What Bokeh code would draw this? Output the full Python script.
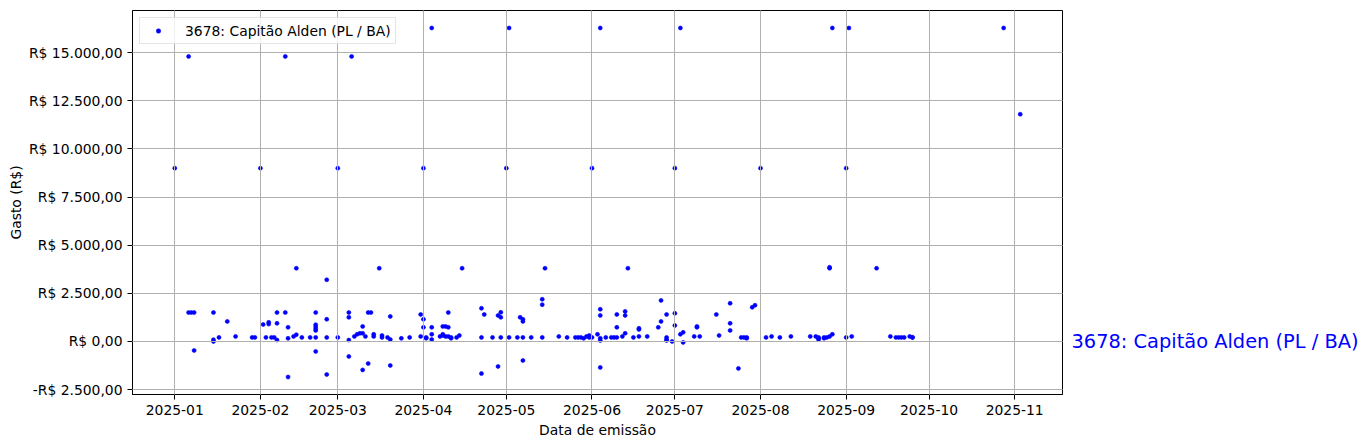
import pandas as pd
from bokeh.plotting import figure
from bokeh.layouts import row
from bokeh.models import Range1d, FixedTicker, DatetimeTickFormatter, ColumnDataSource
from bokeh.core.properties import value
from bokeh.embed import file_html
from bokeh.resources import INLINE

series_name = "3678: Capitão Alden (PL / BA)"

dates = [
    "2025-01-01", "2025-01-06", "2025-01-06", "2025-01-07", "2025-01-08", "2025-01-08",
    "2025-01-15", "2025-01-15", "2025-01-15", "2025-01-17", "2025-01-20", "2025-01-23",
    "2025-01-29", "2025-01-30",
    "2025-02-01", "2025-02-02", "2025-02-03", "2025-02-04", "2025-02-04", "2025-02-05",
    "2025-02-06", "2025-02-07", "2025-02-07", "2025-02-07", "2025-02-10", "2025-02-10",
    "2025-02-11", "2025-02-11", "2025-02-11", "2025-02-14", "2025-02-13", "2025-02-14",
    "2025-02-16", "2025-02-19", "2025-02-21", "2025-02-21", "2025-02-21", "2025-02-21",
    "2025-02-21", "2025-02-21", "2025-02-21", "2025-02-25", "2025-02-25", "2025-02-25",
    "2025-02-25",
    "2025-03-01", "2025-03-01", "2025-03-06", "2025-03-05", "2025-03-05", "2025-03-05",
    "2025-03-05", "2025-03-07", "2025-03-08", "2025-03-09", "2025-03-10", "2025-03-10",
    "2025-03-10", "2025-03-11", "2025-03-12", "2025-03-12", "2025-03-13", "2025-03-14",
    "2025-03-14", "2025-03-16", "2025-03-17", "2025-03-17", "2025-03-19", "2025-03-20",
    "2025-03-20", "2025-03-20", "2025-03-24", "2025-03-27", "2025-03-31", "2025-03-31",
    "2025-04-01", "2025-04-01", "2025-04-01", "2025-04-02", "2025-04-02", "2025-04-04",
    "2025-04-04", "2025-04-04", "2025-04-04", "2025-04-07", "2025-04-08", "2025-04-08",
    "2025-04-08", "2025-04-09", "2025-04-09", "2025-04-10", "2025-04-10", "2025-04-10",
    "2025-04-11", "2025-04-11", "2025-04-13", "2025-04-14", "2025-04-15", "2025-04-22",
    "2025-04-22", "2025-04-22", "2025-04-23", "2025-04-26", "2025-04-28", "2025-04-28",
    "2025-04-29", "2025-04-29", "2025-04-29",
    "2025-05-01", "2025-05-02", "2025-05-02", "2025-05-05", "2025-05-06", "2025-05-07",
    "2025-05-07", "2025-05-07", "2025-05-07", "2025-05-10", "2025-05-14", "2025-05-14",
    "2025-05-14", "2025-05-15", "2025-05-20", "2025-05-23", "2025-05-26", "2025-05-27",
    "2025-05-28", "2025-05-29", "2025-05-30", "2025-05-31", "2025-05-31",
    "2025-06-01", "2025-06-01", "2025-06-03", "2025-06-04", "2025-06-04", "2025-06-04",
    "2025-06-04", "2025-06-04", "2025-06-04", "2025-06-06", "2025-06-08", "2025-06-09",
    "2025-06-10", "2025-06-10", "2025-06-10", "2025-06-12", "2025-06-13", "2025-06-13",
    "2025-06-13", "2025-06-14", "2025-06-16", "2025-06-18", "2025-06-18", "2025-06-18",
    "2025-06-21", "2025-06-25", "2025-06-26", "2025-06-26", "2025-06-28", "2025-06-28",
    "2025-06-28", "2025-06-28", "2025-06-30",
    "2025-07-01", "2025-07-01", "2025-07-01", "2025-07-03", "2025-07-03", "2025-07-04",
    "2025-07-04", "2025-07-08", "2025-07-09", "2025-07-09", "2025-07-10", "2025-07-16",
    "2025-07-17", "2025-07-21", "2025-07-21", "2025-07-21", "2025-07-24", "2025-07-25",
    "2025-07-26", "2025-07-27", "2025-07-27", "2025-07-29", "2025-07-30",
    "2025-08-01", "2025-08-03", "2025-08-05", "2025-08-08", "2025-08-12", "2025-08-19",
    "2025-08-21", "2025-08-22", "2025-08-22", "2025-08-22", "2025-08-24", "2025-08-24",
    "2025-08-25", "2025-08-26", "2025-08-26", "2025-08-26", "2025-08-27", "2025-08-27",
    "2025-09-01", "2025-09-02", "2025-09-01", "2025-09-03", "2025-09-12", "2025-09-17",
    "2025-09-19", "2025-09-20", "2025-09-21", "2025-09-22", "2025-09-24", "2025-09-25",
    "2025-09-25",
    "2025-10-28", "2025-11-03",
]

values = [
    9000, 14800, 1500, 1500, 1500, -470,
    1500, 90, 0, 210, 1040, 260,
    210, 210,
    9000, 880, 210, 990, 900, 210,
    210, 1500, 940, 70, 14800, 1500,
    160, 730, -1850, 3800, 260, 350,
    210, 210, 210, 1500, 870, 760,
    660, 570, -520, 3200, 1150, 210,
    -1720,
    9000, 210, 14800, 1500, 1250, 70,
    -780, 260, 370, 420, 420, 780,
    -1480, 260, 1500, -1150, 1500, 370,
    260, 3800, 310, 210, 210, 100,
    1300, -1250, 160, 210, 260, 1400,
    9000, 1150, 730, 210, 160, 16280,
    730, 370, 100, 260, 310, 370,
    780, 780, 260, 730, 1500, 260,
    210, 160, 210, 310, 3800, 1720,
    210, -1670, 1400, 210, 1350, -1300,
    1510, 1250, 210,
    9000, 16280, 210, 210, 1250, 1150,
    1040, 210, -990, 210, 2190, 1910,
    210, 3800, 260, 210, 210, 210,
    210, 160, 260, 310, 210,
    9000, 210, 370, 16280, 1670, 1350,
    160, 50, -1350, 210, 210, 210,
    210, 1400, 730, 260, 1560, 1350,
    420, 3800, 210, 260, 680, 620,
    260, 730, 2130, 1040, 1400, 210,
    100, 50, 0,
    9000, 1460, 830, 16280, 370, -50,
    470, 260, 780, 730, 260, 1400,
    310, 1980, 940, 570, -1400, 210,
    210, 210, 160, 1770, 1880,
    9000, 210, 260, 210, 260, 260,
    260, 210, 160, 100, 210, 160,
    210, 3800, 3850, 260, 16280, 370,
    9000, 16280, 210, 260, 3800, 260,
    210, 210, 210, 210, 260, 210,
    210,
    16280, 11800,
]

y_ticks = [-2500, 0, 2500, 5000, 7500, 10000, 12500, 15000]
y_tick_labels = ["-R$ 2.500,00", "R$ 0,00", "R$ 2.500,00", "R$ 5.000,00",
                 "R$ 7.500,00", "R$ 10.000,00", "R$ 12.500,00", "R$ 15.000,00"]
x_tick_labels = ["2025-01", "2025-02", "2025-03", "2025-04", "2025-05", "2025-06",
                 "2025-07", "2025-08", "2025-09", "2025-10", "2025-11"]

FONT = "DejaVu Sans"
FS = "13.9px"
H = 440
TOP, BOTTOM = 10, 45

dt = pd.to_datetime(dates)
src = ColumnDataSource(data=dict(x=dt, y=values))

# matplotlib-like 5% margins
xmin, xmax = dt.min(), dt.max()
xspan = xmax - xmin
x_start, x_end = xmin - 0.05 * xspan, xmax + 0.05 * xspan
ymin, ymax = min(values), max(values)
yspan = ymax - ymin
y_range = Range1d(ymin - 0.05 * yspan, ymax + 0.05 * yspan)

p = figure(width=1063, height=H, x_axis_type="datetime",
           output_backend="svg", toolbar_location=None,
           x_range=Range1d(x_start, x_end), y_range=y_range,
           min_border_left=132, min_border_right=1,
           min_border_top=TOP, min_border_bottom=BOTTOM)

p.scatter("x", "y", source=src, size=4, color="blue", line_width=0.6,
          legend_label=series_name)

# axes
xticks = [pd.Timestamp(t + "-01").value / 1e6 for t in x_tick_labels]
p.xaxis.ticker = FixedTicker(ticks=xticks)
fmt = "%Y-%m"
p.xaxis.formatter = DatetimeTickFormatter(years=fmt, months=fmt, days=fmt, hours=fmt,
                                          hourmin=fmt, minutes=fmt, minsec=fmt,
                                          seconds=fmt, milliseconds=fmt, microseconds=fmt)
p.yaxis.ticker = FixedTicker(ticks=y_ticks)
p.yaxis.major_label_overrides = {t: l for t, l in zip(y_ticks, y_tick_labels)}

p.xaxis.axis_label = "Data de emissão"
p.yaxis.axis_label = "Gasto (R$)"
for ax in (p.xaxis, p.yaxis):
    ax.axis_label_text_font = FONT
    ax.axis_label_text_font_size = FS
    ax.axis_label_text_font_style = "normal"
    ax.axis_label_text_color = "black"
    ax.major_label_text_font = FONT
    ax.major_label_text_font_size = FS
    ax.major_label_text_color = "black"
    ax.major_tick_in = 0
    ax.major_tick_out = 5
    ax.major_tick_line_color = "black"
    ax.minor_tick_line_color = None
    ax.axis_line_color = "black"
    ax.major_label_standoff = 5
p.yaxis.axis_label_standoff = 2
p.xaxis.axis_label_standoff = 4

p.grid.grid_line_color = "#b0b0b0"
p.grid.grid_line_width = 1
p.grid.level = "guide"
p.outline_line_color = "black"
p.outline_line_width = 1

# legend
lg = p.legend[0]
lg.location = "top_left"
lg.margin = 7
lg.padding = 4
lg.glyph_width = 28
lg.glyph_height = 11
lg.label_height = 17
lg.label_standoff = 13
lg.label_text_font = FONT
lg.label_text_font_size = FS
lg.label_text_color = "black"
lg.border_line_color = "#cccccc"
lg.background_fill_alpha = 0.8
lg.spacing = 0

# side panel holding the series label right of the axes (shares the y scale)
q = figure(width=298, height=H, output_backend="svg", toolbar_location=None,
           x_range=Range1d(0, 298), y_range=y_range,
           x_axis_location=None, y_axis_location=None,
           min_border_left=0, min_border_right=0,
           min_border_top=TOP, min_border_bottom=BOTTOM)
q.grid.visible = False
q.outline_line_color = None
q.text(x=[8], y=[0], text=[series_name], text_color="blue",
       text_font=value(FONT), text_font_size="19.4px",
       text_baseline="middle", text_align="left")

layout = row(p, q, spacing=0)
open("out.html", "w").write(file_html(layout, INLINE))
